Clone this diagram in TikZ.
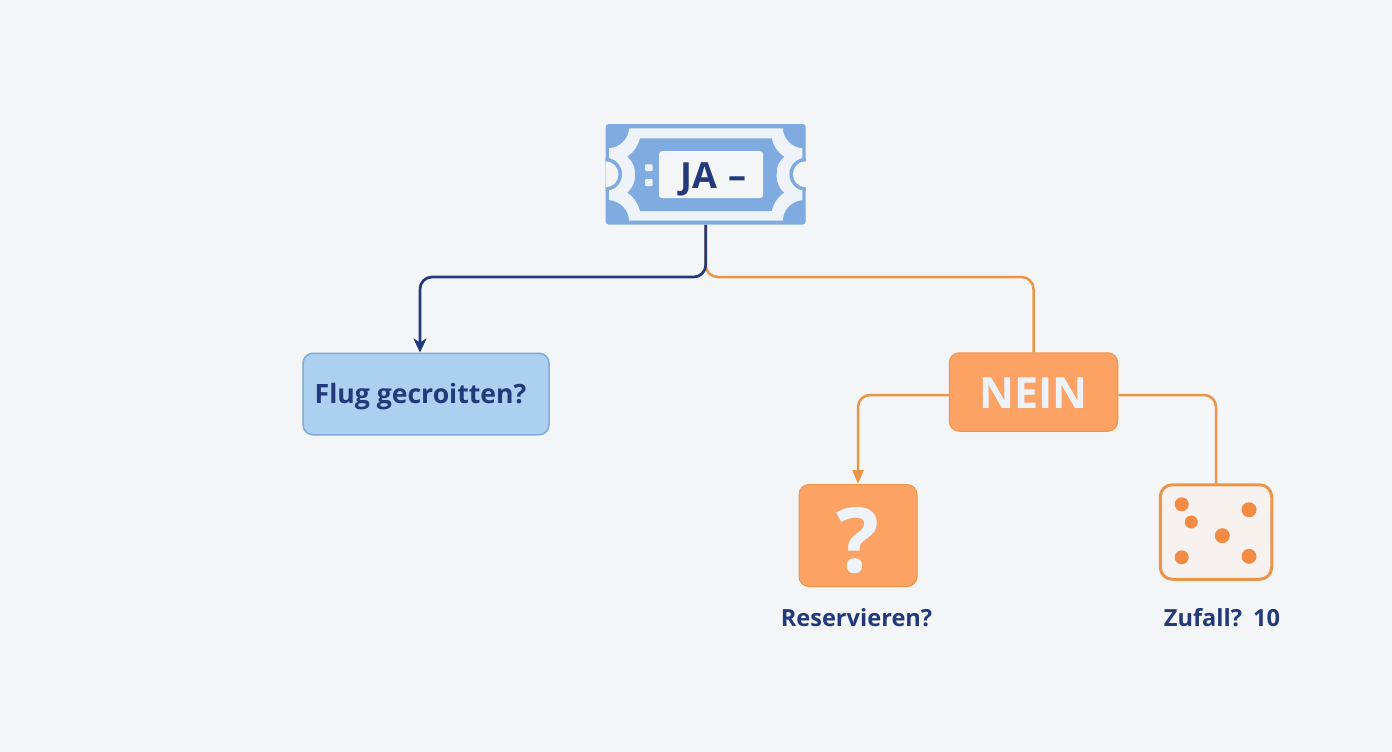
\documentclass[tikz,border=0pt]{standalone}
\usepackage{fontspec}
\setmainfont{Open Sans}
\usetikzlibrary{arrows.meta,positioning}
\definecolor{pagebg}{HTML}{F3F5F7}
\definecolor{navy}{HTML}{22397A}
\definecolor{ticketblue}{HTML}{80ABE0}
\definecolor{ticketpale}{HTML}{EEF3F9}
\definecolor{flugfill}{HTML}{AED0F0}
\definecolor{flugedge}{HTML}{7FABDC}
\definecolor{orangeline}{HTML}{EA9548}
\definecolor{orangefill}{HTML}{FBA264}
\definecolor{dicefill}{HTML}{F7F2EF}
\definecolor{dotorange}{HTML}{F28C45}
\tikzset{
  ticketbox/.style={rectangle,rounded corners=3pt,fill=ticketblue,minimum width=200pt,minimum height=100.6pt},
  jabox/.style={rectangle,rounded corners=3pt,fill=pagebg,text=navy,minimum width=104pt,minimum height=47pt,text height=27.2pt,text depth=0pt,font=\bfseries\fontsize{36}{36}\selectfont},
  flugbox/.style={rectangle,rounded corners=10pt,draw=flugedge,line width=1.5pt,fill=flugfill,text=navy,minimum width=246pt,minimum height=81.5pt,text height=18pt,text depth=0pt,font=\bfseries\fontsize{26.6}{27}\selectfont},
  orangebox/.style={rectangle,rounded corners=10pt,draw=orangeline,line width=1pt,fill=orangefill,text=ticketpale,text depth=0pt},
  dicebox/.style={rectangle,rounded corners=12pt,draw=orangeline,line width=3pt,fill=dicefill,minimum width=111.5pt,minimum height=94.5pt},
  caption/.style={text=navy,text height=19.4pt,text depth=0pt,font=\bfseries\fontsize{23.6}{24}\selectfont},
  navyline/.style={draw=navy,line width=2.7pt,rounded corners=12pt},
  orangelink/.style={draw=orangeline,line width=2.5pt,rounded corners=12pt}
}
\begin{document}
\begin{tikzpicture}[x=1pt,y=-1pt,node distance=100pt,on grid]
  % Background
  \fill[pagebg] (0,0) rectangle (1392,752);
  \useasboundingbox (0,0) rectangle (1392,752);
  % Ticket
  \node[ticketbox] (ticket) at (705.7,174.3) {};
  \fill[ticketpale] (629.3,128.3) -- (782.7,128.3) to[bend right=40] (802.3,148.3)
    -- (802.3,200) to[bend right=40] (782.7,220.7) -- (629.3,220.7)
    to[bend right=40] (609,200) -- (609,148.3) to[bend right=40] cycle;
  \begin{scope}
    \clip (ticket.north west) rectangle (ticket.south east);
    \fill[ticketblue] (ticket.west) circle (16.5pt) (ticket.east) circle (16.5pt);
    \fill[pagebg] (ticket.west) circle (13pt) (ticket.east) circle (13pt);
  \end{scope}
  \fill[ticketblue] (640,138.3) -- (771.7,138.3) to[bend right=20] (784,156.7)
    to[bend right=25] (776.7,174.3) to[bend right=25] (784,192.7)
    to[bend right=20] (771.7,211) -- (640,211) to[bend right=20] (627.3,192.7)
    to[bend right=25] (635,174.3) to[bend right=25] (627.3,156.7) to[bend right=20] cycle;
  \fill[ticketpale,rounded corners=1pt] (645,164.3) rectangle (652.7,171) (645,179) rectangle (652.7,186);
  \node[jabox] (jalabel) at (711,174.7) {\kern5pt JA\hspace{12pt}–};
  % Boxes
  \node[flugbox] (flug) [below left=219.7pt and 279.7pt of ticket] {Flug gecroitten?\kern11pt};
  \node[orangebox,minimum width=168.5pt,minimum height=78.5pt,text height=32pt,font=\bfseries\fontsize{43}{43}\selectfont] (nein) [below right=217.7pt and 327.8pt of ticket] {NEIN};
  \node[orangebox,minimum width=118pt,minimum height=102pt,text height=73pt,font=\bfseries\fontsize{90}{90}\selectfont] (qbox) [below left=143.5pt and 175.5pt of nein] {?};
  \node[dicebox] (dice) [below right=140pt and 182.5pt of nein] {};
  \foreach \px/\py/\pr in {1181.7/504.3/7,1191.3/522/6.5,1249/509.7/7.5,1222.3/535.7/7.5,1181.7/557.3/7,1249/556.3/7.5}
    \fill[dotorange] (\px,\py) circle (\pr pt);
  % Captions
  \node[caption,xshift=-1.5pt] (reslabel) [below=81.5pt of qbox] {Reservieren?};
  \node[caption,xshift=6pt] (zufall) [below=85pt of dice] {Zufall?\hspace{11pt}10};
  % Connectors
  \coordinate (fork) at (705.7,277);
  \draw[orangelink] (ticket.south) -- (fork) -| (nein.north);
  \draw[navyline,-{Stealth[length=14pt,width=13pt,inset=4pt]}] (ticket.south) -- (fork) -| ([xshift=-6pt]flug.north);
  \draw[orangelink,-{Triangle[length=14pt,width=11pt]}] ([yshift=-3pt]nein.west) -| (qbox.north);
  \draw[orangelink] ([yshift=-3pt]nein.east) -| (dice.north);
\end{tikzpicture}
\end{document}
